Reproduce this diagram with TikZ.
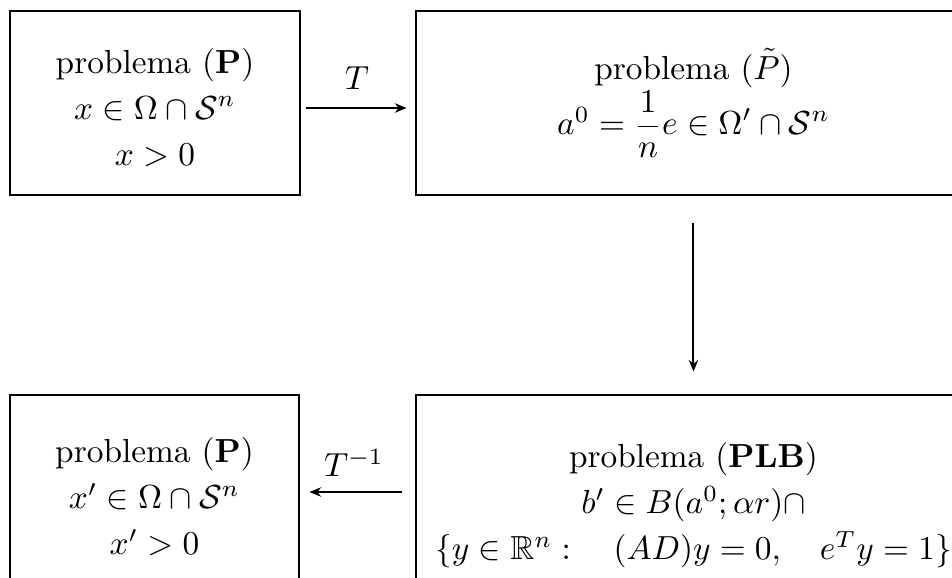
\documentclass[tikz,border=0pt]{standalone}
\usepackage{amssymb}
\usetikzlibrary{arrows.meta,calc}
\begin{document}
\begin{tikzpicture}[x=0.3pt,y=-0.3pt,
  box/.style={draw,line width=0.85pt,rectangle,align=center,inner sep=0pt,
    font=\fontsize{10}{13.8}\selectfont},
  conn/.style={line width=0.6pt,-{Stealth[length=3.5pt,width=2.8pt]}},
  lab/.style={font=\fontsize{10}{12}\selectfont,inner sep=0pt}]
\useasboundingbox (0,0) rectangle (952,577);
\node[box,minimum width=87pt,minimum height=55.2pt] (p1) at (155,103)
  {\rule{0pt}{10pt}problema $(\mathbf{P})$\\ $x\in\Omega\cap\mathcal{S}^n$\\ $x>0$};
\node[box,minimum width=166.5pt,minimum height=55.2pt] (p2) at (693.5,103)
  {problema $(\tilde{P})$\\ $a^0=\displaystyle\frac{1}{n}e\in\Omega'\cap\mathcal{S}^n$};
\node[box,minimum width=86.7pt,minimum height=61.2pt] (p3) at (154.5,497)
  {problema $(\mathbf{P})$\\ $x'\in\Omega\cap\mathcal{S}^n$\\ $x'>0$};
\node[box,minimum width=166.5pt,minimum height=66pt] (p4) at (693.5,505)
  {problema $(\mathbf{PLB})$\\ $b'\in B(a^0;\alpha r)\cap$\\ $\{y\in\mathbb{R}^n:\quad (AD)y=0,\quad e^Ty=1\}$};
\node[lab] (t1) at (357,78) {$T$};
\node[lab] (t2) at (354,463) {$T^{-1}$};
\draw[conn] ($(p1.east)+(5,5)$) -- ($(p2.west)+(-8,5)$);
\draw[conn] ($(p2.south)+(0,27)$) -- ($(p4.north)+(0,-22)$);
\draw[conn] ($(p4.west)+(-13,-13)$) -- ($(p3.east)+(9,-5)$);
\end{tikzpicture}
\end{document}
